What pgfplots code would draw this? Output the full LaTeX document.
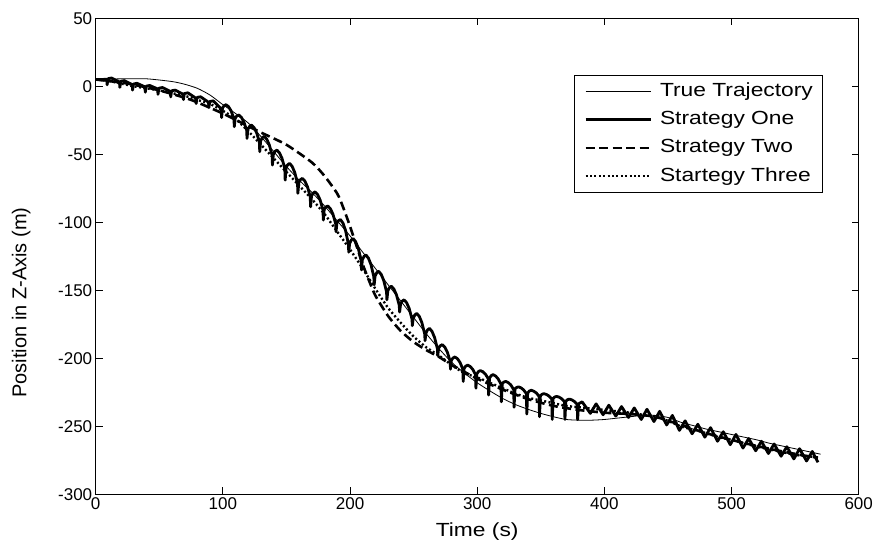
\documentclass[border=0pt]{standalone}
\usepackage{fontspec}
\setmainfont{Liberation Sans}
\newfontfamily\widefont[FakeStretch=1.2]{Liberation Sans}
\usepackage{pgfplots}
\pgfplotsset{compat=1.18}
\begin{document}
\begin{tikzpicture}
\path[use as bounding box] (-95.7pt,-59pt) rectangle (785.3pt,494.3pt);
\begin{axis}[
 at={(0pt,0pt)}, anchor=south west,
 scale only axis, width=763pt, height=476pt,
 xmin=0, xmax=600, ymin=-300, ymax=50,
 xtick={0,100,...,600}, ytick={-300,-250,...,50},
 tick align=inside, tick pos=both, major tick length=7pt,
 axis line style={line width=0.8pt},
 every tick/.style={line width=0.8pt, black},
 /pgf/number format/assume math mode=true,
 tick label style={font=\fontsize{17}{20}\selectfont},
 every axis x label/.style={at={(axis description cs:0.5,-0.079)}, anchor=center, font=\widefont\fontsize{19}{23}\selectfont},
 every axis y label/.style={at={(axis description cs:-0.0976,0.403)}, rotate=90, anchor=center, font=\fontsize{20}{24}\selectfont},
 xlabel={Time (s)}, ylabel={Position in Z-Axis (m)},
 legend style={at={(0.9536,0.881)}, anchor=north east, draw=black, line width=0.8pt,
   font=\widefont\fontsize{19}{22}\selectfont, row sep=4.3pt, column sep=8pt, inner xsep=10pt, inner ysep=4pt,
   nodes={inner xsep=0pt, inner ysep=3pt, text height=14pt, text depth=4pt}},
 legend cell align=left,
 legend image code/.code={\draw[#1] (0pt,0pt) -- (65pt,0pt);},
]
% True trajectory
\addplot[black, line width=0.8pt, smooth, tension=0.4] coordinates {
(0,5) (20,5.5) (40,5.5) (60,3.5) (70,1.5) (80,-1.5) (90,-6.5) (100,-13.5) (110,-20) (120,-27)
(130,-37) (140,-48) (150,-59) (160,-69) (170,-78) (180,-88) (190,-99) (200,-110) (210,-122)
(220,-134) (230,-146) (240,-158) (250,-170) (260,-182) (270,-193) (280,-203) (290,-211)
(300,-218) (310,-224) (320,-229.5) (330,-234) (340,-237.5) (350,-240.5) (360,-243) (370,-245)
(380,-245.5) (390,-245.5) (400,-245) (410,-244) (420,-243) (430,-242) (440,-242) (450,-243.5)
(460,-247) (470,-249.5) (480,-252) (490,-254) (500,-256) (510,-258) (520,-260) (530,-262.5)
(540,-264.5) (550,-266.5) (560,-268.5) (570,-270.5)
};
\addlegendentry{True Trajectory}
% Strategy One
\addplot[black, line width=2.8pt, line join=round] coordinates {
(0,5)
(8.7,5.1) (9,1.1) (9.7,5.6) (12.5,6.1)
(18.7,3.2) (19,-0.8) (19.7,3.7) (22.5,4.2)
(28.7,1.2) (29,-2.8) (29.7,1.7) (32.5,2.2)
(38.7,-0.4) (39,-4.4) (39.7,0.1) (42.5,0.6)
(48.7,-1.9) (49,-5.9) (49.7,-1.4) (52.5,-0.9)
(58.7,-3.8) (59,-7.8) (59.7,-3.3) (62.5,-2.8)
(68.7,-5.8) (69,-9.8) (69.7,-5.3) (72.5,-4.8)
(78.7,-8.7) (79,-12.7) (79.7,-8.2) (82.5,-7.7)
(88.7,-11.7) (89,-15.7) (89.7,-11.2) (92.5,-10.7)
(98.7,-16.5) (99,-23) (99.7,-16) (101,-14.25) (102.5,-13.5) (104.5,-15.05) (106.5,-18.1)
(108.7,-23.8) (109,-29.7) (109.7,-23.3) (111,-21.76) (112.5,-21.1) (114.5,-22.77) (116.5,-26.1)
(118.7,-32.2) (119,-38.3) (119.7,-31.7) (121,-29.46) (122.5,-28.5) (124.5,-30.35) (126.5,-34.04)
(128.7,-40.8) (129,-48.1) (129.7,-40.3) (131,-37.85) (132.5,-36.8) (134.5,-38.87) (136.5,-43)
(138.7,-50.6) (139,-57.9) (139.7,-50.1) (141,-47.86) (142.5,-46.9) (144.5,-48.93) (146.5,-52.98)
(148.7,-60.4) (149,-69) (149.7,-59.9) (151,-57.66) (152.5,-56.7) (154.5,-58.9) (156.5,-63.3)
(158.7,-71.4) (159,-78.7) (159.7,-70.9) (161,-68.66) (162.5,-67.7) (164.5,-69.7) (166.5,-73.8)
(168.7,-81.2) (169,-88.6) (169.7,-80.7) (171,-78.53) (172.5,-77.6) (174.5,-79.6) (176.5,-83.6)
(178.7,-91) (179,-98.4) (179.7,-90.5) (181,-88.75) (182.5,-88) (184.5,-89.95) (186.5,-93.85)
(188.7,-101) (189,-107) (189.7,-100.5) (191,-98.75) (192.5,-98) (194.5,-100.7) (196.5,-106.1)
(198.7,-116) (199,-122) (199.7,-115.5) (201,-113.05) (202.5,-112) (204.5,-114.4) (206.5,-119.2)
(208.7,-128) (209,-135) (209.7,-127.5) (211,-125.05) (212.5,-124) (214.5,-126.4) (216.5,-131.2)
(218.7,-140) (219,-146) (219.7,-139.5) (221,-137.05) (222.5,-136) (224.5,-138.25) (226.5,-142.75)
(228.7,-151) (229,-157) (229.7,-150.5) (231,-148.05) (232.5,-147) (234.5,-149.1) (236.5,-153.3)
(238.7,-161) (239,-166) (239.7,-160.5) (241,-158.05) (242.5,-157) (244.5,-159.1) (246.5,-163.3)
(248.7,-171) (249,-176) (249.7,-170.5) (251,-168.05) (252.5,-167) (254.5,-169.25) (256.5,-173.75)
(258.7,-182) (259,-187) (259.7,-181.5) (261,-179.05) (262.5,-178) (264.5,-180.25) (266.5,-184.75)
(268.7,-193) (269,-198) (269.7,-192.5) (271,-190.75) (272.5,-190) (274.5,-191.8) (276.5,-195.4)
(278.7,-202) (279,-208) (279.7,-201.5) (281,-199.75) (282.5,-199) (284.5,-200.35) (286.5,-203.05)
(288.7,-208) (289,-217) (289.7,-207.5) (291,-205.75) (292.5,-205) (294.5,-206.05) (296.5,-208.15)
(298.7,-212) (299,-222) (299.7,-211.5) (301,-209.75) (302.5,-209) (304.5,-209.9) (306.5,-211.7)
(308.7,-215) (309,-227) (309.7,-214.5) (311,-212.75) (312.5,-212) (314.5,-213.05) (316.5,-215.15)
(318.7,-219) (319,-232) (319.7,-218.5) (321,-217.45) (322.5,-217) (324.5,-217.9) (326.5,-219.7)
(328.7,-223) (329,-236) (329.7,-222.5) (331,-221.45) (332.5,-221) (334.5,-221.75) (336.5,-223.25)
(338.7,-226) (339,-241) (339.7,-225.5) (341,-224.1) (342.5,-223.5) (344.5,-224.2) (346.5,-225.5)
(348.7,-228) (349,-243) (349.7,-227.5) (351,-226.45) (352.5,-226) (354.5,-226.6) (356.5,-227.8)
(358.7,-230) (359,-245) (359.7,-229.5) (361,-228.45) (362.5,-228) (364.5,-228.6) (366.5,-229.8)
(368.7,-232) (369,-245) (369.7,-231.5) (371,-230.45) (372.5,-230) (374.5,-230.6) (376.5,-231.8)
(378.7,-234) (379,-245) (379.7,-233.5) (382.5,-232)
(389,-240.5) (393.5,-233.5)
(399,-241.5) (403.5,-234.5)
(409,-242.5) (413.5,-235.5)
(419,-243.5) (423.5,-236.5)
(429,-245) (433.5,-237.5)
(439,-246.5) (443.5,-239)
(449,-249) (453.5,-242)
(459,-253) (463.5,-246)
(469,-255.5) (473.5,-248.5)
(479,-258) (483.5,-251)
(489,-261) (493.5,-254)
(499,-263.5) (503.5,-256)
(509,-266) (513.5,-259)
(519,-268) (523.5,-261)
(529,-270) (533.5,-263)
(539,-272) (543.5,-265)
(549,-274) (553.5,-266.5)
(559,-275.5) (563.5,-268.5)
(568,-276.5)
};
\addlegendentry{Strategy One}
% Strategy Two
\addplot[black, line width=2.6pt, dash pattern=on 9pt off 4.5pt, smooth, tension=0.4] coordinates {
(0,5) (25,2) (50,-3) (75,-10) (100,-20) (115,-27) (130,-34) (150,-43) (170,-56) (180,-66)
(190,-79) (195,-90) (200,-103) (205,-117) (210,-131) (215,-143) (220,-154) (230,-169)
(240,-180) (250,-188) (260,-194) (270,-199) (280,-205) (290,-210) (300,-215) (320,-223)
(340,-230) (360,-235) (380,-238) (400,-240) (420,-241) (440,-243) (460,-249) (480,-255)
(500,-260) (520,-264.5) (540,-268.5) (560,-272) (568,-273)
};
\addlegendentry{Strategy Two}
% Strategy Three
\addplot[black, line width=2.4pt, dash pattern=on 2pt off 2.4pt, smooth, tension=0.4] coordinates {
(0,5) (10,4) (20,2) (30,0) (40,-1.5) (50,-3) (60,-5) (70,-7) (80,-10) (90,-13) (100,-18)
(110,-24) (120,-33) (130,-43) (140,-53) (150,-63) (160,-73) (170,-83) (180,-94) (190,-107)
(200,-120) (210,-134) (220,-149) (230,-163) (240,-174) (250,-184) (260,-192) (270,-198)
(280,-205) (290,-211) (300,-214) (310,-218) (320,-222) (330,-226) (340,-229) (350,-231)
(360,-233) (370,-235) (380,-236) (390,-237) (400,-238) (410,-239) (420,-240) (430,-241.5)
(440,-243) (450,-246) (460,-250) (470,-252.5) (480,-255) (490,-258) (500,-260) (510,-262.5)
(520,-265) (530,-267) (540,-269) (550,-271) (560,-272) (568,-273)
};
\addlegendentry{Startegy Three}
\end{axis}
\end{tikzpicture}
\end{document}
